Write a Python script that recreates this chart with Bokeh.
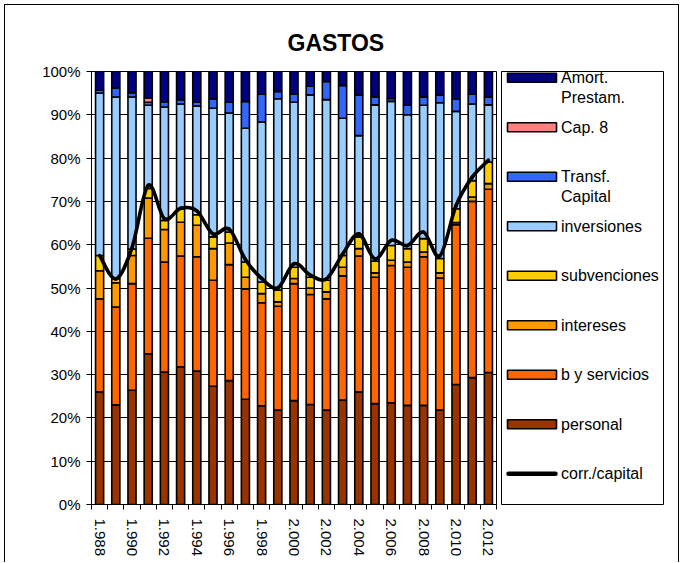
from bokeh.plotting import figure
from bokeh.models import ColumnDataSource, Range1d, FixedTicker, PrintfTickFormatter
from bokeh.layouts import row
from bokeh.embed import file_html
from bokeh.resources import INLINE
from bokeh.core.properties import value

# ---------------- data (percent of total spending) ----------------
years = list(range(1988, 2013))
personal      = [26.0, 23.0, 26.4, 34.8, 30.6, 31.8, 30.8, 27.3, 28.6, 24.3, 22.8, 21.8, 24.0,
                 23.1, 21.8, 24.1, 26.0, 23.3, 23.5, 22.9, 22.9, 21.8, 27.7, 29.3, 30.5]
b_y_servicios = [21.5, 22.6, 24.6, 26.7, 25.4, 25.6, 26.4, 24.5, 26.8, 25.5, 23.8, 24.0, 27.0,
                 25.4, 25.7, 28.7, 31.4, 29.2, 31.7, 31.9, 34.3, 30.5, 36.9, 40.7, 42.3]
intereses     = [6.5, 5.6, 6.5, 9.3, 7.5, 7.8, 7.3, 7.3, 5.0, 2.7, 2.1, 1.0, 1.2,
                 1.5, 1.6, 2.0, 1.7, 1.0, 1.2, 1.2, 1.1, 1.2, 0.5, 1.0, 1.3]
subvenciones  = [3.5, 1.0, 1.5, 2.2, 2.1, 3.1, 2.4, 2.7, 2.5, 3.5, 2.7, 2.7, 2.6,
                 2.5, 2.7, 2.7, 2.7, 2.7, 3.4, 3.1, 3.1, 3.3, 3.2, 3.8, 5.0]
inversiones   = [37.5, 41.9, 35.1, 19.2, 26.2, 24.2, 25.1, 29.7, 27.5, 30.9, 36.9, 44.2, 38.1,
                 42.1, 41.7, 31.7, 23.4, 36.1, 33.3, 30.9, 30.8, 36.0, 22.5, 17.7, 13.2]
transf_capital = [0.7, 2.1, 1.0, 0.7, 1.2, 1.0, 0.9, 2.2, 2.5, 6.2, 6.5, 1.7, 1.9,
                  2.0, 4.2, 7.6, 9.4, 1.9, 0.7, 2.2, 1.9, 1.8, 2.9, 2.3, 1.8]
cap_8         = [0.0, 0.0, 0.0, 1.0, 0.0, 0.0, 0.0, 0.0, 0.0, 0.0, 0.0, 0.0, 0.0,
                 0.0, 0.0, 0.0, 0.0, 0.0, 0.0, 0.0, 0.0, 0.0, 0.0, 0.0, 0.0]
amort_prestam = [4.3, 3.8, 4.9, 6.1, 7.0, 6.5, 7.1, 6.3, 7.1, 6.9, 5.2, 4.6, 5.2,
                 3.4, 2.3, 3.2, 5.4, 5.8, 6.2, 7.8, 5.9, 5.4, 6.3, 5.2, 5.9]
corr_capital  = [57.5, 52.1, 59.3, 73.7, 66.0, 68.4, 67.8, 62.5, 63.6, 56.6, 52.2, 50.0, 55.6,
                 53.0, 52.1, 57.8, 62.5, 56.7, 61.0, 59.8, 62.9, 57.4, 69.0, 75.6, 79.5]

series_keys  = ["personal", "b_y_servicios", "intereses", "subvenciones",
                "inversiones", "transf_capital", "cap_8", "amort_prestam"]
series_names = ["personal", "b y servicios", "intereses", "subvenciones",
                "inversiones", "Transf.\nCapital", "Cap. 8", "Amort.\nPrestam."]
series_colors = ["#993300", "#FF6600", "#FF9900", "#FFCC00",
                 "#99CCFF", "#3366FF", "#FF8080", "#000080"]
line_name = "corr./capital"
x_ticks = list(range(1988, 2013, 2))
x_tick_labels = ["1.988", "1.990", "1.992", "1.994", "1.996", "1.998", "2.000",
                 "2.002", "2.004", "2.006", "2.008", "2.010", "2.012"]
y_ticks = list(range(0, 101, 10))
title_text = "GASTOS"

FONT = "Liberation Sans"

src = ColumnDataSource(dict(
    year=years, personal=personal, b_y_servicios=b_y_servicios, intereses=intereses,
    subvenciones=subvenciones, inversiones=inversiones, transf_capital=transf_capital,
    cap_8=cap_8, amort_prestam=amort_prestam))

# ---------------- main chart ----------------
P_W, P_H = 494, 557
p = figure(width=P_W, height=P_H, output_backend="svg", toolbar_location=None,
           x_range=Range1d(1987.5, 2012.5), y_range=Range1d(0, 100),
           min_border_left=86, min_border_right=3, min_border_top=66, min_border_bottom=58,
           title=title_text)
p.background_fill_color = "white"
p.border_fill_color = "white"
p.outline_line_color = "black"
p.outline_line_width = 1

p.title.align = "left"
p.title.offset = 196
p.title.standoff = 32
p.title.text_font = FONT
p.title.text_font_size = "23px"
p.title.text_font_style = "bold"
p.title.text_color = "black"

p.vbar_stack(series_keys, x="year", width=0.5, color=series_colors,
             line_color="black", line_width=1.6, source=src)

# smoothed line (Catmull-Rom as cubic Bezier segments)
n = len(years)
x0, y0, x1, y1, cx0, cy0, cx1, cy1 = [], [], [], [], [], [], [], []
for i in range(n - 1):
    ip = max(i - 1, 0)
    inx = min(i + 2, n - 1)
    x0.append(years[i]); y0.append(corr_capital[i])
    x1.append(years[i + 1]); y1.append(corr_capital[i + 1])
    cx0.append(years[i] + (years[i + 1] - years[ip]) / 6.0)
    cy0.append(corr_capital[i] + (corr_capital[i + 1] - corr_capital[ip]) / 6.0)
    cx1.append(years[i + 1] - (years[inx] - years[i]) / 6.0)
    cy1.append(corr_capital[i + 1] - (corr_capital[inx] - corr_capital[i]) / 6.0)
p.bezier(x0=x0, y0=y0, x1=x1, y1=y1, cx0=cx0, cy0=cy0, cx1=cx1, cy1=cy1,
         line_color="black", line_width=3.6, line_cap="round")

# axes
p.xgrid.visible = False
p.ygrid.ticker = FixedTicker(ticks=y_ticks)
p.ygrid.grid_line_color = "black"
p.ygrid.grid_line_width = 1

p.yaxis.ticker = FixedTicker(ticks=y_ticks)
p.yaxis.formatter = PrintfTickFormatter(format="%d%%")
p.yaxis.minor_tick_line_color = None
p.yaxis.major_tick_out = 5
p.yaxis.major_tick_in = 0
p.yaxis.major_label_standoff = 6

p.xaxis.ticker = FixedTicker(ticks=x_ticks,
                             minor_ticks=[y - 0.5 for y in years] + [years[-1] + 0.5])
p.xaxis.major_label_overrides = {t: lab for t, lab in zip(x_ticks, x_tick_labels)}
p.xaxis.major_tick_line_color = None
p.xaxis.major_tick_out = 5
p.xaxis.minor_tick_out = 5
p.xaxis.minor_tick_in = 0
p.xaxis.minor_tick_line_color = "black"
p.xaxis.major_label_orientation = "vertical"
p.xaxis.major_label_standoff = 9

for ax in (p.xaxis, p.yaxis):
    ax.axis_line_color = "black"
    ax.major_label_text_font = FONT
    ax.major_label_text_font_size = "15px"
    ax.major_label_text_color = "black"

# ---------------- legend panel (frame = legend box, page-pixel coordinates) ----------------
L_W = 179
lg = figure(width=L_W, height=P_H, output_backend="svg", toolbar_location=None,
            x_range=Range1d(501, 663), y_range=Range1d(504, 71),
            x_axis_location=None, y_axis_location=None,
            min_border_left=2, min_border_right=15, min_border_top=66, min_border_bottom=58)
lg.grid.visible = False
lg.outline_line_color = "black"
lg.outline_line_width = 1
lg.background_fill_color = "white"
lg.border_fill_color = "white"

order = list(range(len(series_keys)))[::-1]
row_y0, row_dy = 77.3, 49.5
sw_y = [row_y0 + k * row_dy for k in range(len(order))]
lg.rect(x=531.5, y=sw_y, width=49, height=9,
        fill_color=[series_colors[i] for i in order], line_color="black", line_width=1.6)
line_y = row_y0 + len(order) * row_dy
lg.line(x=[508, 555], y=[line_y, line_y], line_color="black", line_width=4.5, line_cap="round")

labels = [series_names[i] for i in order] + [line_name]
tx, ty, texts = [], [], []
for k, lab in enumerate(labels):
    for j, part in enumerate(lab.split("\n")):
        tx.append(560.5)
        ty.append(row_y0 + k * row_dy + j * 20)
        texts.append(part)
lg.text(x=tx, y=ty, text=texts, text_font=value(FONT), text_font_size="16px",
        text_baseline="middle", text_align="left", text_color="black")

layout = row(p, lg, styles={"margin-left": "4px", "margin-top": "4px",
                            "border-top": "1px solid black",
                            "border-left": "1px solid black",
                            "border-right": "1px solid black"})

open("out.html", "w").write(file_html(layout, INLINE))
